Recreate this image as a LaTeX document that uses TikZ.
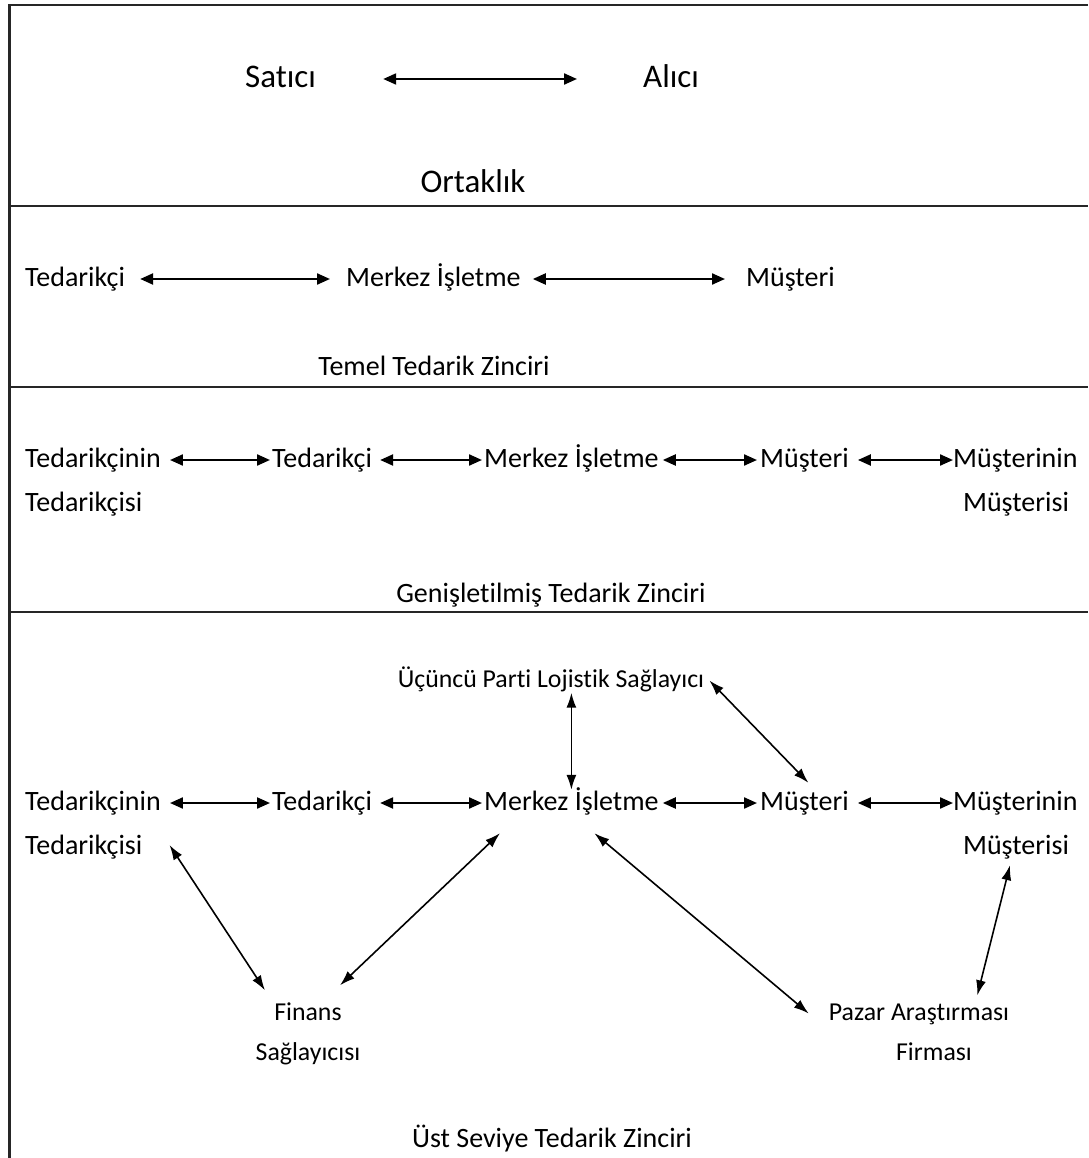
\documentclass[tikz,border=0pt]{standalone}
\usepackage{fontspec}
\setmainfont{Carlito}[Ligatures={NoCommon}]
\usetikzlibrary{arrows.meta}
\begin{document}
\begin{tikzpicture}[x=1pt,y=-1pt,
  big/.style={font=\fontsize{33}{40}\selectfont, inner sep=0pt, text height=24pt, text depth=7pt},
  lbl/.style={font=\fontsize{28}{34}\selectfont, inner sep=0pt, text height=20pt, text depth=6pt},
  sml/.style={font=\fontsize{25.8}{31}\selectfont, inner sep=0pt, text height=18.5pt, text depth=5.5pt},
  frame/.style={line width=2.4pt, draw=black!85},
  link/.style={{Triangle[length=13pt,width=11pt]}-{Triangle[length=13pt,width=11pt]}, line width=2.2pt},
  slim/.style={{Latex[length=15pt,width=10pt]}-{Latex[length=15pt,width=10pt]}, line width=1.6pt},
]
\useasboundingbox (0,0) rectangle (1088,1158);

% panel frame and separators
\draw[frame] (1088,5) -- (9.5,5) -- (9.5,1158);
\draw[frame] (9.5,206) -- (1088,206);
\draw[frame] (9.5,387) -- (1088,387);
\draw[frame] (9.5,612) -- (1088,612);

% --- partnership
\node[big, anchor=base west] (sat) at (245,87.5) {Satıcı};
\node[big, anchor=base west] (ali) at (643,87.5) {Alıcı};
\node[big, anchor=base] (ort) at (473,193) {Ortaklık};
\draw[link, shorten <=67pt, shorten >=66pt] (sat.east) -- (ali.west);

% --- basic supply chain
\node[lbl, anchor=base west] (t2) at (25,286) {Tedarikçi};
\node[lbl, anchor=base west] (m2) at (346,286) {Merkez İşletme};
\node[lbl, anchor=base west] (c2) at (746,286) {Müşteri};
\node[lbl, anchor=base] (cap2) at (434,375) {Temel Tedarik Zinciri};
\draw[link, shorten <=15pt, shorten >=16pt] (t2.east) -- (m2.west);
\draw[link, shorten <=12pt, shorten >=21pt] (m2.east) -- (c2.west);

% --- extended supply chain
\node[lbl, anchor=base west] (tt3) at (25,467) {Tedarikçinin};
\node[lbl, anchor=base west] (ts3) at (25,511) {Tedarikçisi};
\node[lbl, anchor=base west] (t3) at (272,467) {Tedarikçi};
\node[lbl, anchor=base west] (m3) at (484,467) {Merkez İşletme};
\node[lbl, anchor=base west] (c3) at (760,467) {Müşteri};
\node[lbl, anchor=base west] (cc3) at (953,467) {Müşterinin};
\node[lbl, anchor=base] (cs3) at (1016,511) {Müşterisi};
\node[lbl, anchor=base] (cap3) at (551,602) {Genişletilmiş Tedarik Zinciri};
\draw[link, shorten <=9pt, shorten >=2pt] (tt3.east) -- (t3.west);
\draw[link, shorten <=8pt, shorten >=2pt] (t3.east) -- (m3.west);
\draw[link, shorten <=4pt, shorten >=3pt] (m3.east) -- (c3.west);
\draw[link, shorten <=9pt, shorten >=0pt] (c3.east) -- (cc3.west);

% --- top level supply chain
\node[sml, anchor=base] (u4) at (551,687) {Üçüncü Parti Lojistik Sağlayıcı};
\node[lbl, anchor=base west] (tt4) at (25,810) {Tedarikçinin};
\node[lbl, anchor=base west] (ts4) at (25,854) {Tedarikçisi};
\node[lbl, anchor=base west] (t4) at (272,810) {Tedarikçi};
\node[lbl, anchor=base west] (m4) at (484,810) {Merkez İşletme};
\node[lbl, anchor=base west] (c4) at (760,810) {Müşteri};
\node[lbl, anchor=base west] (cc4) at (953,810) {Müşterinin};
\node[lbl, anchor=base] (cs4) at (1016,854) {Müşterisi};
\node[sml, anchor=base] (fin1) at (308,1020) {Finans};
\node[sml, anchor=base] (fin2) at (308,1060) {Sağlayıcısı};
\node[sml, anchor=base] (paz1) at (919,1020) {Pazar Araştırması};
\node[sml, anchor=base] (paz2) at (934,1060) {Firması};
\node[lbl, anchor=base] (cap4) at (552,1147) {Üst Seviye Tedarik Zinciri};

\draw[link, shorten <=9pt, shorten >=2pt] (tt4.east) -- (t4.west);
\draw[link, shorten <=8pt, shorten >=2pt] (t4.east) -- (m4.west);
\draw[link, shorten <=4pt, shorten >=3pt] (m4.east) -- (c4.west);
\draw[link, shorten <=9pt, shorten >=0pt] (c4.east) -- (cc4.west);

\draw[slim] (m4.north |- u4.south) -- (m4.north);
\draw[slim] ([xshift=5pt]u4.east) -- ([shift={(4pt,7pt)}]c4.north);
\draw[slim] ([shift={(27pt,2pt)}]ts4.east) -- ([shift={(-43pt,11pt)}]fin1.north);
\draw[slim] ([shift={(16pt,-17pt)}]m4.south west) -- ([shift={(32pt,16pt)}]fin1.north);
\draw[slim] ([shift={(23pt,-17pt)}]m4.south) -- ([xshift=-20pt]paz1.west);
\draw[slim] ([shift={(-6pt,-5pt)}]cs4.south) -- ([shift={(-32pt,6pt)}]paz1.north east);
\end{tikzpicture}
\end{document}
